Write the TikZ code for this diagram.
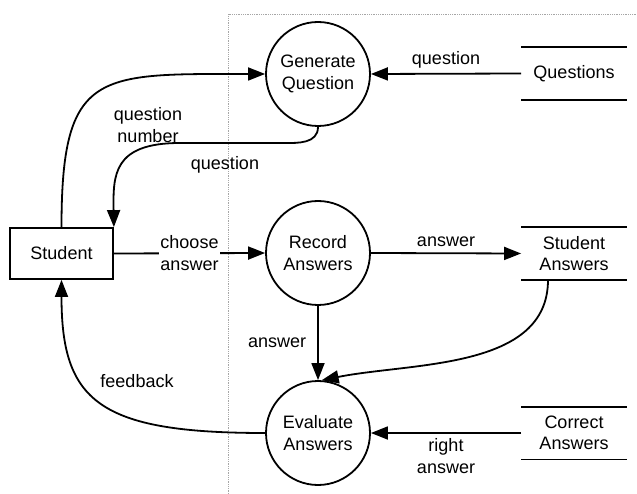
\documentclass[tikz,border=0pt]{standalone}
\usepackage{fontspec}
\setmainfont{Liberation Sans}
\usetikzlibrary{arrows.meta}

\begin{document}
\begin{tikzpicture}[x=1pt, y=-1pt, line width=1.8pt,
    every node/.style={font=\fontsize{18}{21.5}\selectfont, align=center},
    process/.style={draw, circle, minimum size=104pt, inner sep=0pt},
    entity/.style={draw, minimum width=103pt, minimum height=51pt},
    store/.style={minimum width=104pt, minimum height=51pt, inner sep=0pt},
    flow/.style={-{Triangle[length=17pt, width=13pt]}},
    lbl/.style={inner sep=1pt}]
        \useasboundingbox (0,0) rectangle (637,494);
        % system boundary
        \draw[densely dotted, gray!70, line width=0.8pt] (228,494) |- (637,14);
        % entity, processes, stores
        \node[entity] (student) at (61.5,253.5) {Student};
        \node[process] (gen) at (318,74) {Generate\\Question};
        \node[process] (rec) at (318,253) {Record\\Answers};
        \node[process] (eval) at (318,433) {Evaluate\\Answers};
        \node[store] (qs) at (574,73.5) {Questions};
        \node[store] (sans) at (574,253.5) {Student\\Answers};
        \node[store] (cans) at (574,433) {Correct\\Answers};
        \foreach \s in {qs, sans, cans} {
            \draw (\s.north west) -- (\s.north east);
            \draw (\s.south west) -- (\s.south east);
        }
        % flows
        \draw[flow] (student.north) .. controls +(0,-158) and +(-167,0) .. (gen.west);
        \node[lbl] (lqnum) at (148,125) {question\\number};
        \draw[flow] (gen.south) .. controls +(0,17) and +(12,0) .. (285,143)
            -- (180,143) .. controls (113,143) and (113,175) .. (student.north east);
        \node[lbl] (lq1) at (225,165) {question};
        \draw[flow] (qs.west) -- node[lbl, above=4pt] (lq2) {question} (gen.east);
        \draw[flow] (student.east) -- node[lbl, fill=white] (lchoose) {choose\\answer} (rec.west);
        \draw[flow] (rec.east) -- node[lbl, above=5pt] (la1) {answer} (sans.west);
        \draw[flow] (rec.south) -- node[lbl, left=10pt] (la2) {answer} (eval.north);
        \draw[flow] ([xshift=-26pt]sans.south) .. controls +(0,90) and +(90,-18) .. (eval.86);
        \draw[flow] (cans.west) -- node[lbl, below=4pt] (lright) {right\\answer} (eval.east);
        \draw[flow] (eval.west) .. controls +(-167,0) and +(0,121) .. (student.south);
        \node[lbl] (lfb) at (137,381) {feedback};
\end{tikzpicture}
\end{document}
